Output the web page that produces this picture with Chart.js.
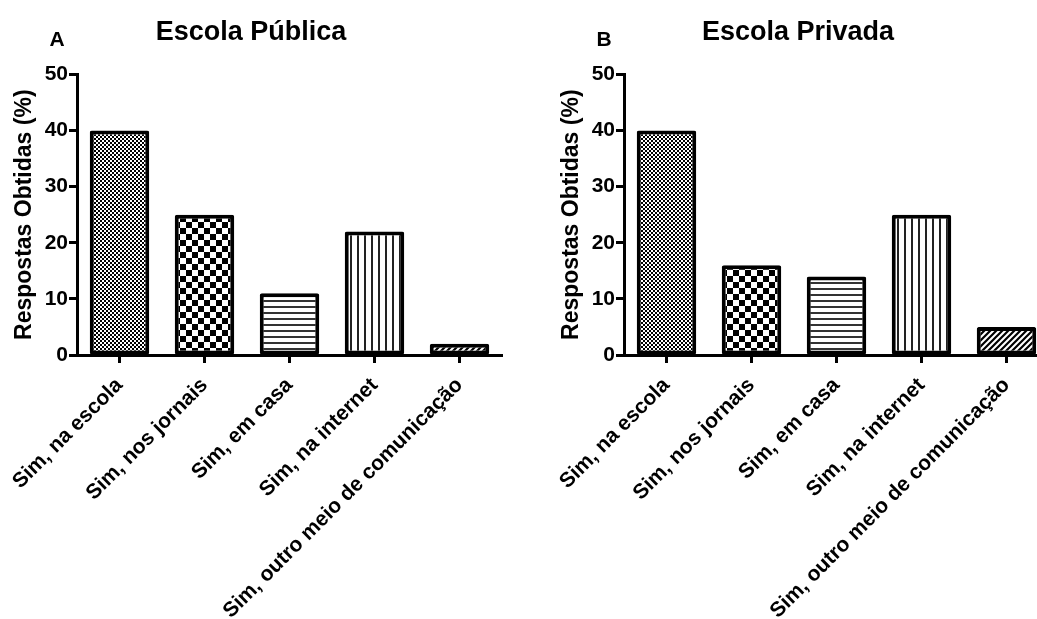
<!DOCTYPE html>
<html>
<head>
    <title>Escola Pública / Escola Privada</title>
    <script src="https://cdn.jsdelivr.net/npm/chart.js"></script>
    <style>
        body { margin: 0; background: #fff; overflow: hidden; width: 1037px; height: 619px; position: relative; }
        canvas { position: absolute; top: 0; }
        #chartA { left: 0; }
        #chartB { left: 547px; }
    </style>
</head>
<body>
    <canvas id="chartA" width="520" height="619"></canvas>
    <canvas id="chartB" width="520" height="619"></canvas>

    <script>
        // answer categories (same for both schools)
        var categories = [
            'Sim, na escola',
            'Sim, nos jornais',
            'Sim, em casa',
            'Sim, na internet',
            'Sim, outro meio de comunicação'
        ];
        // % of answers
        var publicaValues = [40, 25, 11, 22, 2];
        var privadaValues = [40, 16, 14, 25, 5];
        var yMin = 0, yMax = 50, yStep = 10;

        var fontFamily = "'Liberation Sans', Arial, Helvetica, sans-serif";
        Chart.defaults.font.family = fontFamily;
        Chart.defaults.color = '#000';

        // fill patterns, one per category
        function makePattern(kind) {
            var c = document.createElement('canvas');
            var g = c.getContext('2d');
            if (kind === 'fineCheck') {
                c.width = 4; c.height = 4;
                g.fillStyle = '#fff'; g.fillRect(0, 0, 4, 4);
                g.fillStyle = '#000';
                g.fillRect(0, 0, 2, 2); g.fillRect(2, 2, 2, 2);
            } else if (kind === 'check') {
                c.width = 12; c.height = 12;
                g.fillStyle = '#fff'; g.fillRect(0, 0, 12, 12);
                g.fillStyle = '#000';
                g.fillRect(0, 0, 6, 6); g.fillRect(6, 6, 6, 6);
            } else if (kind === 'hLines') {
                c.width = 6; c.height = 6;
                g.fillStyle = '#fff'; g.fillRect(0, 0, 6, 6);
                g.fillStyle = '#333'; g.fillRect(0, 0, 6, 2);
            } else if (kind === 'vLines') {
                c.width = 7; c.height = 7;
                g.fillStyle = '#fff'; g.fillRect(0, 0, 7, 7);
                g.fillStyle = '#222'; g.fillRect(0, 0, 2, 7);
            } else {
                c.width = 6; c.height = 6;
                g.fillStyle = '#fff'; g.fillRect(0, 0, 6, 6);
                g.strokeStyle = '#000'; g.lineWidth = 2.2;
                g.beginPath();
                g.moveTo(-1, 7); g.lineTo(7, -1);
                g.moveTo(-4, 4); g.lineTo(4, -4);
                g.moveTo(2, 10); g.lineTo(10, 2);
                g.stroke();
            }
            return g.createPattern(c, 'repeat');
        }

        var patternKinds = ['fineCheck', 'check', 'hLines', 'vLines', 'diag'];

        // draws the panel letter (A / B) above the y axis
        var panelLetter = {
            id: 'panelLetter',
            afterDraw: function(chart, args, opts) {
                var ctx = chart.ctx;
                ctx.save();
                ctx.font = 'bold 21px ' + fontFamily;
                ctx.fillStyle = '#000';
                ctx.textAlign = 'center';
                ctx.textBaseline = 'middle';
                ctx.fillText(opts.text, chart.chartArea.left - 20, 40);
                ctx.restore();
            }
        };

        function makeChart(id, title, letter, values) {
            var ctx = document.getElementById(id).getContext('2d');
            return new Chart(ctx, {
                type: 'bar',
                data: {
                    labels: categories,
                    datasets: [{
                        data: values,
                        backgroundColor: patternKinds.map(makePattern),
                        borderColor: '#000',
                        borderWidth: 4,
                        borderSkipped: false,
                        borderRadius: 2,
                        barPercentage: 0.7,
                        categoryPercentage: 1
                    }]
                },
                options: {
                    responsive: false,
                    animation: false,
                    devicePixelRatio: 1,
                    layout: { padding: { top: 0, left: 0, right: 18, bottom: 0 } },
                    plugins: {
                        legend: { display: false },
                        tooltip: { enabled: false },
                        title: {
                            display: true,
                            text: title,
                            color: '#000',
                            font: { size: 27, weight: 'bold' },
                            padding: { top: 16, bottom: 26 }
                        },
                        panelLetter: { text: letter }
                    },
                    scales: {
                        x: {
                            grid: {
                                offset: false,
                                drawOnChartArea: false,
                                drawTicks: true,
                                tickLength: 8,
                                tickWidth: 3,
                                tickColor: '#000'
                            },
                            border: { display: true, color: '#000', width: 3 },
                            ticks: {
                                autoSkip: false,
                                minRotation: 45,
                                maxRotation: 45,
                                padding: 10,
                                color: '#000',
                                font: { size: 21, weight: 'bold' }
                            },
                            afterFit: function(scale) {
                                scale.height = 264;
                                scale.paddingLeft = 0;
                                scale.paddingRight = 0;
                            }
                        },
                        y: {
                            min: yMin,
                            max: yMax,
                            grid: {
                                drawOnChartArea: false,
                                drawTicks: true,
                                tickLength: 8,
                                tickWidth: 3,
                                tickColor: '#000'
                            },
                            border: { display: true, color: '#000', width: 3 },
                            ticks: {
                                stepSize: yStep,
                                padding: 1,
                                color: '#000',
                                font: { size: 21, weight: 'bold' }
                            },
                            title: {
                                display: true,
                                text: 'Respostas Obtidas (%)',
                                color: '#000',
                                font: { size: 23, weight: 'bold' },
                                padding: { top: 11, bottom: 0 }
                            },
                            afterFit: function(scale) {
                                scale.width = 77;
                            }
                        }
                    }
                },
                plugins: [panelLetter]
            });
        }

        makeChart('chartA', 'Escola Pública', 'A', publicaValues);
        makeChart('chartB', 'Escola Privada', 'B', privadaValues);
    </script>
</body>
</html>
